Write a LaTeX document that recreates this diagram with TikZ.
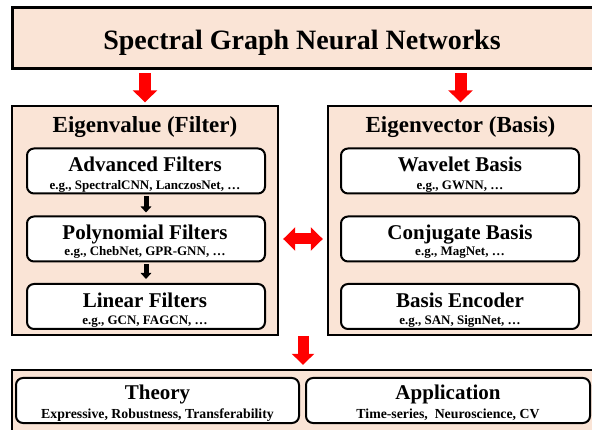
\documentclass[tikz,border=0pt]{standalone}
\usepackage{fontspec}
\setmainfont{Liberation Serif}
\usepackage{tikz}
\usetikzlibrary{arrows.meta}
\definecolor{peach}{RGB}{250,228,214}
\tikzset{
  bigpanel/.style={draw, line width=2.4pt, fill=peach, inner sep=0pt},
  inbox/.style={draw, line width=2pt, fill=white, rounded corners=7pt, minimum width=238pt, minimum height=45pt, inner sep=0pt},
  bigtext/.style={anchor=base, inner sep=0pt, font=\bfseries\fontsize{28}{30}\selectfont},
  headtext/.style={anchor=base, inner sep=0pt, font=\bfseries\fontsize{23}{25}\selectfont},
  nametext/.style={anchor=base, inner sep=0pt, font=\bfseries\fontsize{21}{23}\selectfont},
  egtext/.style={anchor=base, inner sep=0pt, font=\bfseries\fontsize{13}{15}\selectfont},
  redarrow/.style={draw=red, line width=12pt, -{Triangle[length=12pt,width=24pt]}},
  redboth/.style={draw=red, line width=11pt, {Triangle[length=12pt,width=23pt]}-{Triangle[length=12pt,width=23pt]}},
  blackarrow/.style={draw=black, line width=5pt, -{Triangle[length=6pt,width=10.5pt]}},
}

\begin{document}
\begin{tikzpicture}[x=1pt,y=-1pt]
  \useasboundingbox (0,0) rectangle (592,430);
  % outer boxes
  \node[bigpanel, line width=3pt, minimum width=586pt, minimum height=61pt] (sgnn) at (305,38.5) {};
  \node[bigpanel, minimum width=266pt, minimum height=229pt] (eigval) at (145,220.5) {};
  \node[bigpanel, minimum width=270pt, minimum height=229pt] (eigvec) at (463,220.5) {};
  \node[bigpanel, minimum width=586pt, minimum height=70pt] (future) at (305,405) {};
  \node[bigtext] (sgnnt) at (302,50) {Spectral Graph Neural Networks};
  \node[headtext] (valt) at (145,133) {Eigenvalue (Filter)};
  \node[headtext] (vect) at (460.5,133) {Eigenvector (Basis)};
  % filters
  \node[inbox] (adv) at (146,171) {};
  \node[inbox] (poly) at (146,239) {};
  \node[inbox] (lin) at (146,306.5) {};
  \node[nametext] (advn) at (145,172) {Advanced Filters};
  \node[egtext] (adve) at (145,189.3) {e.g., SpectralCNN, LanczosNet, …};
  \node[nametext] (polyn) at (145,239.5) {Polynomial Filters};
  \node[egtext] (polye) at (145,256) {e.g., ChebNet, GPR-GNN, …};
  \node[nametext] (linn) at (145,307.3) {Linear Filters};
  \node[egtext] (line) at (145,324.3) {e.g., GCN, FAGCN, …};
  % bases
  \node[inbox] (wave) at (460,171) {};
  \node[inbox] (conj) at (460,239) {};
  \node[inbox] (enc) at (460,306.5) {};
  \node[nametext] (waven) at (460,172) {Wavelet Basis};
  \node[egtext] (wavee) at (460,189.3) {e.g., GWNN, …};
  \node[nametext] (conjn) at (460,239.5) {Conjugate Basis};
  \node[egtext] (conje) at (460,256) {e.g., MagNet, …};
  \node[nametext] (encn) at (460,307.3) {Basis Encoder};
  \node[egtext] (ence) at (460,324.3) {e.g., SAN, SignNet, …};
  % theory and application
  \node[inbox, minimum width=283pt] (theo) at (157.5,400.5) {};
  \node[inbox, minimum width=284pt] (app) at (448,400.5) {};
  \node[nametext] (theon) at (157.5,399.5) {Theory};
  \node[egtext, font=\bfseries\fontsize{13.8}{15}\selectfont] (theoe) at (157.5,418) {Expressive, Robustness, Transferability};
  \node[nametext] (appn) at (448,399.5) {Application};
  \node[egtext, font=\bfseries\fontsize{13.8}{15}\selectfont] (appe) at (448,418) {Time-series,~ Neuroscience, CV};
  % arrows
  \coordinate (gap) at (303,336);
  \draw[redarrow] ([yshift=-3pt]sgnn.south -| eigval.north) -- ([yshift=2.5pt]eigval.north);
  \draw[redarrow] ([yshift=-3pt]sgnn.south -| vect.base) -- ([yshift=2.5pt]eigvec.north -| vect.base);
  \draw[redboth] ([xshift=4pt]eigval.east |- poly.center) -- ([xshift=-4pt]eigvec.west |- conj.center);
  \draw[redarrow, line width=11pt, -{Triangle[length=11pt,width=22pt]}] (gap) -- ([yshift=4pt]gap |- future.north);
  \draw[blackarrow] ([yshift=-2pt]adv.south) -- ([yshift=3pt]poly.north);
  \draw[blackarrow] ([yshift=-2pt]poly.south) -- ([yshift=4pt]lin.north);
\end{tikzpicture}
\end{document}
